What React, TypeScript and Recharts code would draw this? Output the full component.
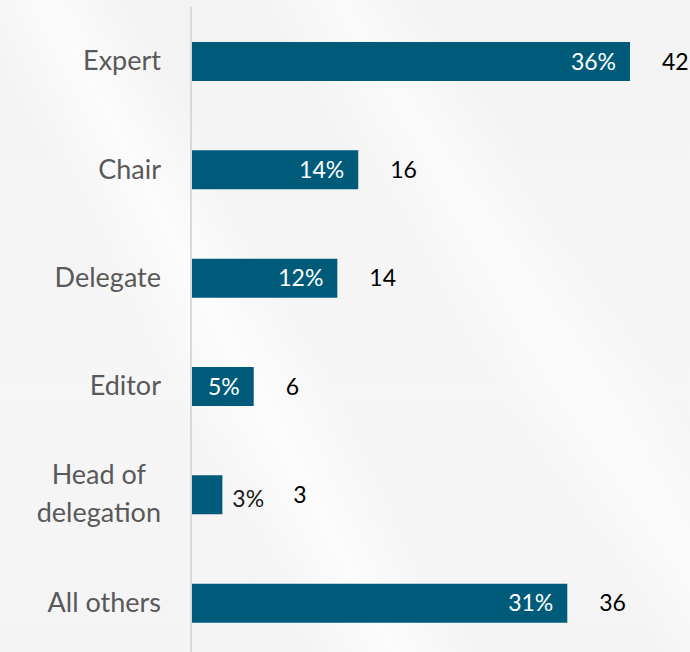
import { BarChart, Bar, XAxis, YAxis, LabelList } from "recharts";

const categories = ["Expert", "Chair", "Delegate", "Editor", "Head of delegation", "All others"];
const counts = [42, 16, 14, 6, 3, 36];
const shares = [36, 14, 12, 5, 3, 31];

const data = categories.map((name, i) => ({ name, count: counts[i], share: shares[i] }));

const BAR = "#005b7b";
const FONT = "Lato, 'Open Sans', sans-serif";
const CAT_SIZE = 27;
const VAL_SIZE = 23;

let ctx: CanvasRenderingContext2D | null = null;
function textWidth(s: string, size: number) {
  if (!ctx) ctx = document.createElement("canvas").getContext("2d");
  if (!ctx) return s.length * size * 0.5;
  ctx.font = `${size}px ${FONT}`;
  return ctx.measureText(s).width;
}

// wrap long category names onto two lines, like the original slide
function wrap(label: string, max: number) {
  const words = label.split(" ");
  const lines: string[] = [];
  let cur = "";
  words.forEach((w) => {
    const next = cur ? cur + " " + w : w;
    if (cur && textWidth(next, CAT_SIZE) > max) {
      lines.push(cur);
      cur = w;
    } else cur = next;
  });
  lines.push(cur);
  return lines;
}

function CategoryTick(props: any) {
  const { x, y, payload } = props;
  const lines = wrap(String(payload.value), 155);
  if (lines.length === 1) {
    return (
      <text x={x} y={y + 9} textAnchor="end" fill="#595959" fontSize={CAT_SIZE} fontFamily={FONT}>
        {lines[0]}
      </text>
    );
  }
  const widest = Math.max(...lines.map((l) => textWidth(l, CAT_SIZE)));
  const cx = x - widest / 2;
  const lh = 38;
  const top = y + 9 - ((lines.length - 1) * lh) / 2 - 1;
  return (
    <text textAnchor="middle" fill="#595959" fontSize={CAT_SIZE} fontFamily={FONT}>
      {lines.map((l, i) => (
        <tspan key={i} x={cx} y={top + i * lh}>
          {l}
        </tspan>
      ))}
    </text>
  );
}

const SMALL = 40; // bars narrower than this get their % label outside

function ShareLabel(props: any) {
  const { x, y, width, height, value } = props;
  const cy = y + height / 2;
  if (width < SMALL) {
    return (
      <text x={x + width + 10} y={cy + 12} fill="#1a1a1a" fontSize={VAL_SIZE} fontFamily={FONT}>
        {value}%
      </text>
    );
  }
  return (
    <text x={x + width - 14} y={cy + 8} textAnchor="end" fill="#ffffff" fontSize={VAL_SIZE} fontFamily={FONT}>
      {value}%
    </text>
  );
}

function CountLabel(props: any) {
  const { x, y, width, height, value } = props;
  const gap = width < SMALL ? 71 : 32;
  return (
    <text x={x + width + gap} y={y + height / 2 + 8} fill="#000000" fontSize={VAL_SIZE} fontFamily={FONT}>
      {value}
    </text>
  );
}

export default function App() {
  return (
    <div
      style={{
        width: 690,
        height: 652,
        overflow: "hidden",
        background:
          "linear-gradient(62deg, rgba(255,255,255,0) 30%, rgba(255,255,255,0.7) 38%, rgba(255,255,255,0) 46%)," +
          "linear-gradient(58deg, rgba(255,255,255,0) 60%, rgba(255,255,255,0.6) 68%, rgba(255,255,255,0) 76%)," +
          "linear-gradient(180deg, #f3f3f3 0%, #f6f6f6 60%, #f4f4f4 100%)",
      }}
    >
      <style>{`body{margin:0}`}</style>
      <BarChart
        width={690}
        height={660}
        data={data}
        layout="vertical"
        margin={{ top: 7, right: 60, bottom: 3, left: 0 }}
      >
        <XAxis type="number" domain={[0, 42]} hide />
        <YAxis
          type="category"
          dataKey="name"
          width={191}
          axisLine={{ stroke: "#d9d9d9", strokeWidth: 2 }}
          tickLine={false}
          tickSize={0}
          tickMargin={30}
          tick={(p: any) => <CategoryTick {...p} />}
          interval={0}
        />
        <Bar dataKey="count" fill={BAR} barSize={39} isAnimationActive={false}>
          <LabelList dataKey="share" content={(p: any) => <ShareLabel {...p} />} />
          <LabelList dataKey="count" content={(p: any) => <CountLabel {...p} />} />
        </Bar>
      </BarChart>
    </div>
  );
}
